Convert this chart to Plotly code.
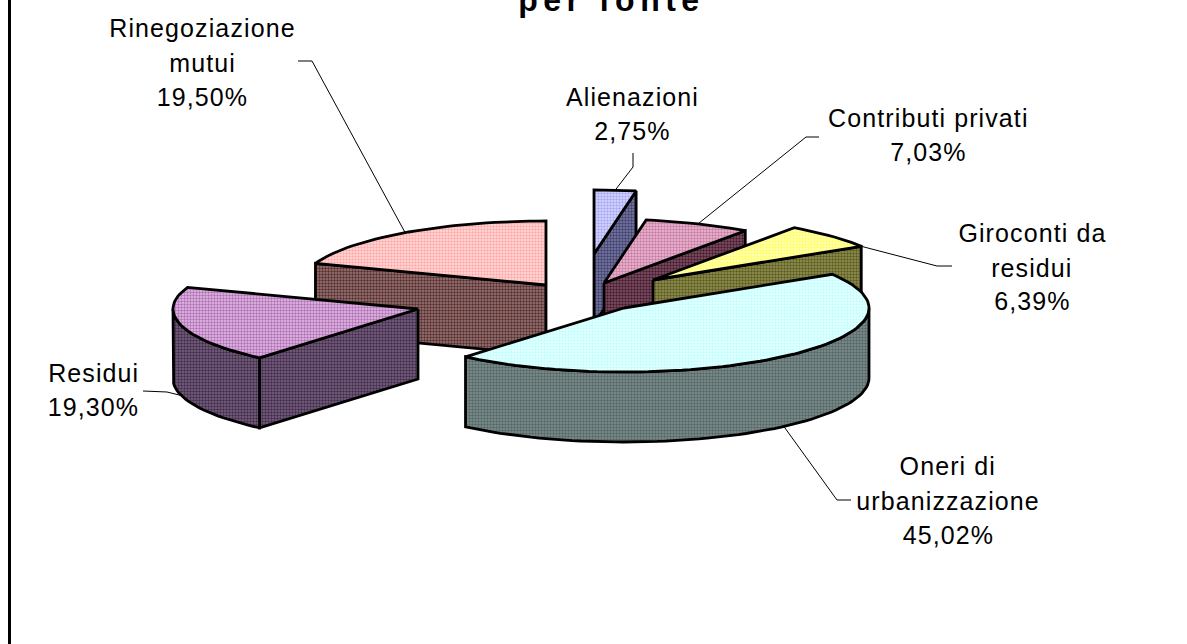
import math
import plotly.graph_objects as go

# ---- data ----
categories = ["Alienazioni", "Contributi privati", "Giroconti da residui",
              "Oneri di urbanizzazione", "Residui", "Rinegoziazione mutui"]
values = [2.75, 7.03, 6.39, 45.02, 19.30, 19.50]
label_lines = [["Alienazioni"], ["Contributi privati"], ["Giroconti da", "residui"],
               ["Oneri di", "urbanizzazione"], ["Residui"], ["Rinegoziazione", "mutui"]]
value_labels = ["2,75%", "7,03%", "6,39%", "45,02%", "19,30%", "19,50%"]
title_text = "per fonte"

# ---- styling / layout constants ----
W, H = 1187, 644
RX, RY, DEPTH = 245, 64, 70
CX, CY = 590, 290
slice_shift = [(4, -36), (14, -7), (63, -10), (34, 18), (-172, 19), (-44, -5)]
top_colors = [("#a8a8f4", "#dcdcff"), ("#c87ca4", "#ecbcd4"), ("#ffff60", "#ffffc8"),
              ("#c0ffff", "#eeffff"), ("#b070b8", "#e4c0e4"), ("#ffa8a8", "#ffe0e0")]
wall_colors = [("#404070", "#7c7ca4"), ("#441c2c", "#84546c"), ("#5c5c1c", "#94945c"),
               ("#546868", "#80908e"), ("#402c4c", "#7c6482"), ("#5c2c2c", "#947c7c")]
draw_order = [5, 0, 1, 2, 4, 3]
label_x = [632, 928, 1032, 948, 93, 202]
label_y = [[97, 131], [118, 152], [233, 268, 301], [466, 501, 535], [373, 407], [28, 63, 97]]
leader_tail = [[(633, 153), (633, 167)], [(819, 137), (806, 137)], [(952, 266), (937, 266)],
               [(851, 500), (837, 500)], [(143, 391), (167, 392)], [(298, 61), (312, 61)]]
leader_angle_override = {2: "end"}
FONT = "Liberation Sans, Arial, sans-serif"

total = sum(values)
starts, ends = [], []
acc = 0.0
for v in values:
    starts.append(acc / total * 360)
    acc += v
    ends.append(acc / total * 360)


def rim(i, deg, drop=0):
    a = math.radians(deg)
    ax, ay = CX + slice_shift[i][0], CY + slice_shift[i][1]
    return ax + RX * math.sin(a), ay - RY * math.cos(a) + drop


def apex(i, drop=0):
    return CX + slice_shift[i][0], CY + slice_shift[i][1] + drop


def arc(i, a0, a1, drop=0):
    n = max(2, int(abs(a1 - a0) / 2) + 1)
    return [rim(i, a0 + (a1 - a0) * k / (n - 1), drop) for k in range(n)]


fig = go.Figure()


def poly(points, colors, name):
    xs = [p[0] for p in points] + [points[0][0]]
    ys = [p[1] for p in points] + [points[0][1]]
    fig.add_trace(go.Scatter(
        x=xs, y=ys, mode="lines", fill="toself", name=name, hoverinfo="name",
        showlegend=False,
        line=dict(color="black", width=2.8),
        fillcolor=colors[1],
        fillpattern=dict(shape=".", bgcolor=colors[1], fgcolor=colors[0],
                         size=3, solidity=0.5, fillmode="replace"),
    ))


for i in draw_order:
    s, e = starts[i], ends[i]
    name = categories[i]
    # cut faces turned towards the viewer
    if math.sin(math.radians(s)) < -1e-6:
        poly([apex(i), rim(i, s), rim(i, s, DEPTH), apex(i, DEPTH)], wall_colors[i], name)
    if math.sin(math.radians(e)) > 1e-6:
        poly([apex(i), rim(i, e), rim(i, e, DEPTH), apex(i, DEPTH)], wall_colors[i], name)
    # outer wall (front half of the ellipse)
    a0, a1 = max(s, 90), min(e, 270)
    if a1 > a0:
        poly(arc(i, a0, a1) + arc(i, a1, a0, DEPTH), wall_colors[i], name)
    # top face
    poly([apex(i)] + arc(i, s, e), top_colors[i], name)

# leader lines
for i in range(len(values)):
    mid = (starts[i] + ends[i]) / 2
    ang = ends[i] if leader_angle_override.get(i) == "end" else mid
    drop = DEPTH if 90 < ang < 270 else 0
    pts = leader_tail[i] + [rim(i, ang, drop)]
    fig.add_trace(go.Scatter(x=[p[0] for p in pts], y=[p[1] for p in pts], mode="lines",
                             line=dict(color="black", width=1), hoverinfo="skip", showlegend=False))

annotations = []
for i in range(len(values)):
    lines = label_lines[i] + [value_labels[i]]
    for txt, y in zip(lines, label_y[i]):
        annotations.append(dict(x=label_x[i], y=y, xref="x", yref="y", text=txt, showarrow=False,
                                xanchor="center", yanchor="middle",
                                font=dict(family=FONT, size=25, color="black")))
annotations.append(dict(x=612 / W, y=1, xref="paper", yref="paper", yshift=0,
                        text=f"<b>{title_text}</b>", showarrow=False,
                        xanchor="center", yanchor="middle",
                        font=dict(family=FONT, size=32, color="black")))

fig.update_layout(
    width=W, height=H, margin=dict(l=0, r=0, t=0, b=0),
    paper_bgcolor="white", plot_bgcolor="white", showlegend=False,
    xaxis=dict(range=[0, W], visible=False, fixedrange=True),
    yaxis=dict(range=[H, 0], visible=False, fixedrange=True),
    annotations=annotations,
    shapes=[dict(type="line", xref="x", yref="y", x0=9.5, x1=9.5, y0=0, y1=H,
                 line=dict(color="black", width=3))],
)

post = """
document.documentElement.style.overflow = 'hidden';
document.body.style.margin = '0';
document.querySelectorAll('.annotation-text').forEach(function(t){
  t.style.letterSpacing = t.textContent === 'per fonte' ? '5.5px' : '1.1px';
});
"""
fig.write_html("out.html", post_script=post,
               config={"displayModeBar": False},
               default_width=W, default_height=H)
